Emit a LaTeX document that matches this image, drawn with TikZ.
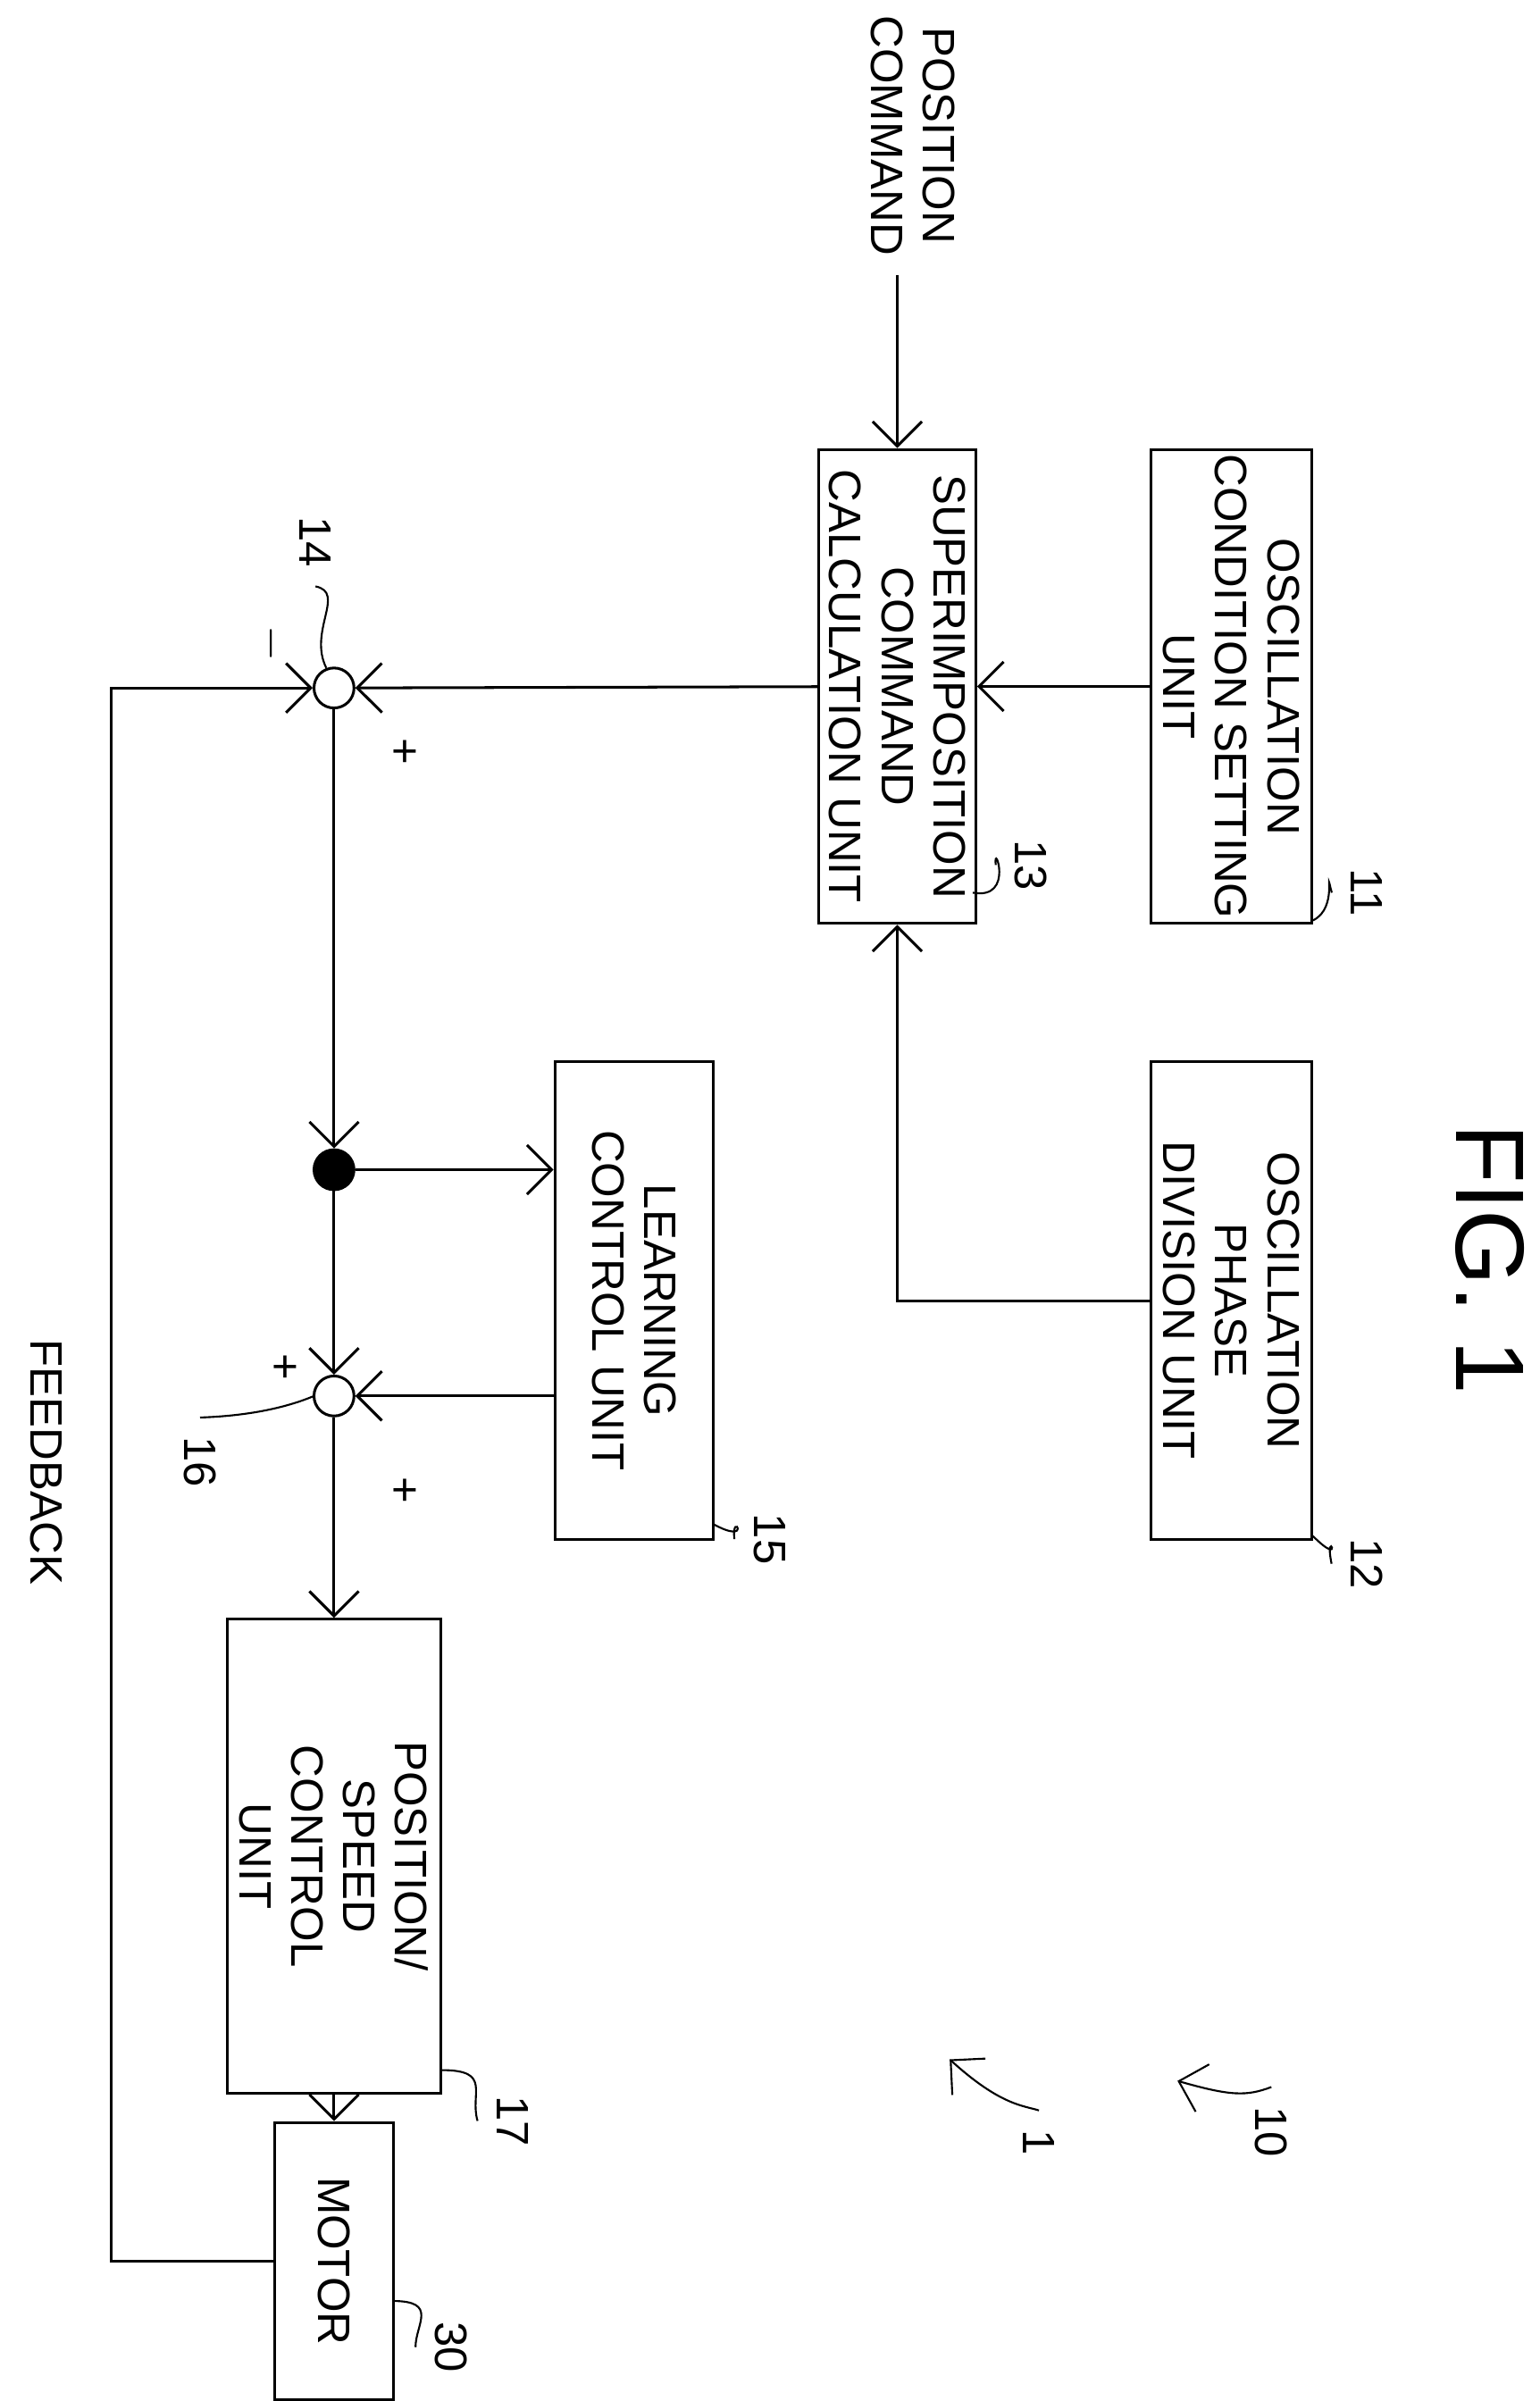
\documentclass[tikz,border=0pt]{standalone}
\usepackage{fontspec}
\setmainfont{Liberation Sans}
\usetikzlibrary{arrows.meta, positioning}

\begin{document}
\begin{tikzpicture}[x=0.1mm, y=-0.1mm, >={Straight Barb[length=1.6mm,width=3.2mm]},
  line width=0.5pt, font=\fontsize{8.4}{9.6}\selectfont]
\tikzstyle{box}=[draw, rotate=-90, align=center, inner sep=0pt];
\tikzstyle{sum}=[draw, circle, minimum size=2.6mm, inner sep=0pt];
\tikzstyle{lbl}=[rotate=-90, font=\fontsize{8.4}{10}\selectfont];
\tikzstyle{wave}=[line width=0.35pt];
\useasboundingbox (0,0) rectangle (1000,1560);
\node[rotate=-90, font=\fontsize{18}{20}\selectfont] (fig) at (968,818) {FIG. 1};
\node[box, minimum width=30.8mm, minimum height=10.5mm] (b11) at (800,446) {OSCILLATION\\CONDITION SETTING\\UNIT};
\node[box, minimum width=31mm, minimum height=10.5mm] (b12) at (800,845) {OSCILLATION\\PHASE\\DIVISION UNIT};
\node[box, minimum width=30.8mm, minimum height=10.2mm] (b13) at (583,446) {SUPERIMPOSITION\\COMMAND\\CALCULATION UNIT};
\node[box, minimum width=31mm, minimum height=10.3mm] (b15) at (412,845) {LEARNING\\CONTROL UNIT};
\node[box, minimum width=30.8mm, minimum height=13.9mm] (b17) at (217,1206) {POSITION/\\SPEED\\CONTROL\\UNIT};
\node[box, minimum width=18mm, minimum height=7.7mm] (motor) at (217,1469) {MOTOR};
\node[rotate=-90, align=center] (pc) at (593,88) {POSITION\\COMMAND};
\node[rotate=-90] (fbtext) at (30,950) {FEEDBACK};
\node[sum] (sum14) at (217,447) {};
\node[sum, fill=black] (dot) at (217,760) {};
\node[sum] (sum16) at (217,907) {};
\coordinate (fb) at (72,1469);
% signal flow
\draw[->] (b13.west |- pc.east) -- (b13.west);
\draw[->] (b11) -- (b13);
\draw[->] (b12.south) -| (b13.east);
\draw[->] (b13) -- (sum14);
\draw[->] (sum14) -- (dot);
\draw[->] (dot) -- (sum16);
\draw[->] (dot) -- (dot -| b15.south);
\draw[->] (sum16 -| b15.south) -- (sum16);
\draw[->] (sum16) -- (b17);
\draw[->] (b17) -- (motor);
\draw[->] (motor.south) -- (fb) |- (sum14);
% signs
\node[lbl] (p14) at (262,488) {+};
\node[lbl] (m14) at (176,418) {$-$};
\node[lbl] (p16a) at (184,888) {+};
\node[lbl] (p16b) at (262,968) {+};
% reference numerals
\node[lbl] (n11) at (888,580) {11};
\node[lbl] (n12) at (888,1016) {12};
\node[lbl] (n13) at (670,562) {13};
\node[lbl] (n15) at (500,1000) {15};
\node[lbl] (n17) at (333,1378) {17};
\node[lbl] (n30) at (293,1525) {30};
\node[lbl] (n14) at (205,352) {14};
\node[lbl] (n16) at (130,950) {16};
\node[lbl] (n10) at (826,1385) {10};
\node[lbl] (n1) at (675,1392) {1};
\draw[wave] (n11.south) .. controls (860,560) and (870,590) .. (853,598);
\draw[wave] (n12.south) .. controls (860,990) and (875,1020) .. (853,998);
\draw[wave] (n13.south) .. controls (645,545) and (660,585) .. (632,580);
\draw[wave] (n15.south) .. controls (475,980) and (490,1005) .. (463,990);
\draw[wave] (n17.south) .. controls (305,1360) and (320,1345) .. (287,1345);
\draw[wave] (n30.south) .. controls (270,1510) and (285,1495) .. (255,1495);
\draw[wave] (n14.east) .. controls (225,385) and (200,410) .. (212,434);
\draw[wave] (n16.west) .. controls (160,920) and (185,915) .. (204,907);
\draw[wave, ->] (n10.west) .. controls (810,1362) and (800,1362) .. (765,1352);
\draw[wave, ->] (n1.west) .. controls (665,1368) and (650,1368) .. (617,1338);
\end{tikzpicture}
\end{document}
